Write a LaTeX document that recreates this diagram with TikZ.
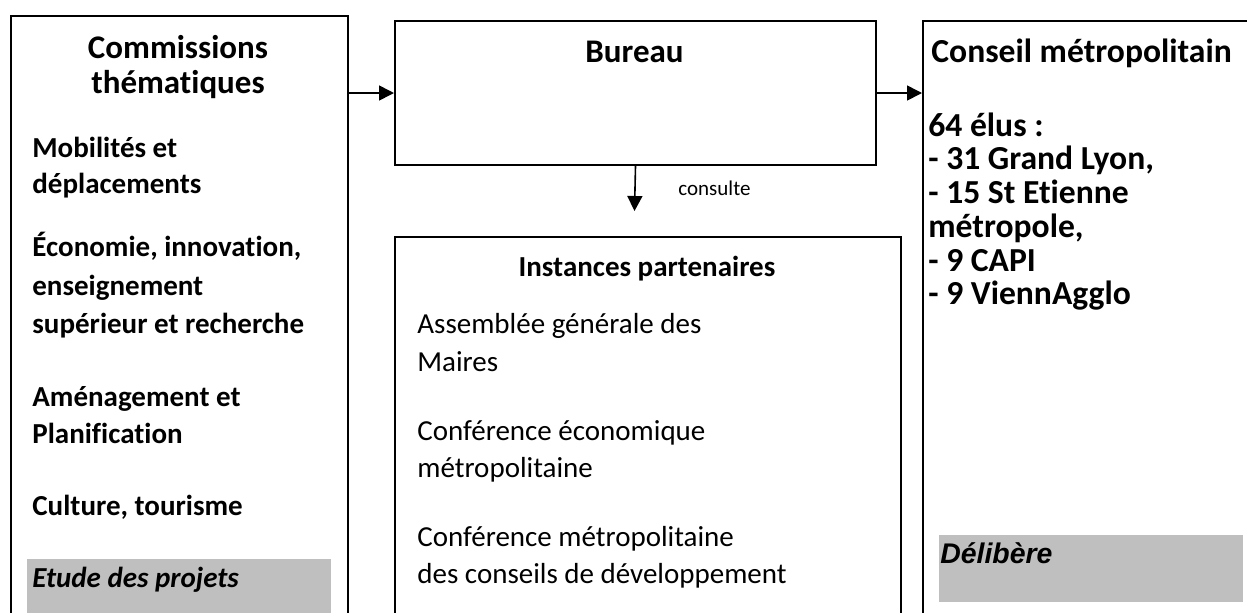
\documentclass[tikz,border=0pt]{standalone}
\usepackage{fontspec}
\setmainfont{Carlito}[Ligatures=NoCommon]
\newfontfamily\arialfont{Liberation Sans}
\usetikzlibrary{arrows.meta}
\definecolor{shade}{RGB}{191,191,191}

\tikzset{
  box/.style={draw, line width=1pt, rectangle, inner sep=0pt, anchor=north west},
  shadebox/.style={fill=shade, inner sep=0pt, anchor=north west},
  ln/.style={inner sep=0pt, anchor=base west, font=\fontsize{14.5}{17}\selectfont},
  bln/.style={ln, font=\fontsize{14.5}{17}\selectfont\bfseries},
  big/.style={ln, font=\fontsize{16.8}{20}\selectfont\bfseries},
  hd/.style={ln, anchor=base, font=\fontsize{16.5}{20}\selectfont\bfseries},
  link/.style={line width=0.8pt, -{Triangle[length=7.5pt,width=7.5pt]}}
}

\begin{document}
\begin{tikzpicture}[x=0.5pt,y=-0.5pt]
\useasboundingbox (0,0) rectangle (1247,612);
\clip (0,0) rectangle (1247,612);
% boxes
\node[box, minimum width=168.5pt, minimum height=312.5pt] (comm) at (10,15) {};
\node[box, minimum width=240.5pt, minimum height=72pt] (bureau) at (394,20) {};
\node[box, minimum width=253pt, minimum height=202pt] (inst) at (394,236) {};
\node[box, minimum width=184pt, minimum height=310pt] (conseil) at (922,20) {};
\node[shadebox, minimum width=152pt, minimum height=30.5pt] (etude) at (27,559) {};
\node[shadebox, minimum width=152pt, minimum height=33.5pt] (delib) at (939,535) {};
% arrows
\coordinate (consend) at (634.5,211);
\draw[link] (comm.east |- bureau.west) -- (bureau.west);
\draw[link] (bureau.east) -- (conseil.west |- bureau.east);
\draw[link] (bureau.south) -- (consend);
\node[ln, font=\fontsize{10.5}{12}\selectfont] (consl) at (678,195) {consulte};
% commissions
\node[hd] (c0) at (178,58) {Commissions};
\node[hd] (c1) at (178,93) {thématiques};
\node[bln] (c2) at (32,157) {Mobilités et};
\node[bln] (c3) at (32,193) {déplacements};
\node[bln] (c4) at (32,256) {Économie, innovation,};
\node[bln] (c5) at (32,295) {enseignement};
\node[bln] (c6) at (32,333) {supérieur et recherche};
\node[bln] (c7) at (32,406) {Aménagement et};
\node[bln] (c8) at (32,443) {Planification};
\node[bln] (c9) at (32,515) {Culture, tourisme};
\node[bln, font=\fontsize{14.5}{17}\selectfont\bfseries\itshape] (c10) at (32,587) {Etude des projets};
% bureau
\node[hd] (b0) at (634.5,62) {Bureau};
% instances
\node[bln, anchor=base] (i0) at (647,276) {Instances partenaires};
\node[ln] (i1) at (417,333) {Assemblée générale des};
\node[ln] (i2) at (417,371) {Maires};
\node[ln] (i3) at (417,440) {Conférence économique};
\node[ln] (i4) at (417,477) {métropolitaine};
\node[ln] (i5) at (417,546) {Conférence métropolitaine};
\node[ln] (i6) at (417,583) {des conseils de développement};
% conseil
\node[big] (k0) at (931,62) {Conseil métropolitain};
\node[big] (k1) at (928,136) {64 élus :};
\node[big] (k2) at (928,169) {- 31 Grand Lyon,};
\node[big] (k3) at (928,203) {- 15 St Etienne};
\node[big] (k4) at (928,237) {métropole,};
\node[big] (k5) at (928,271) {- 9 CAPI};
\node[big] (k6) at (928,304) {- 9 ViennAgglo};
\node[ln, font=\fontsize{14.2}{17}\selectfont\arialfont\bfseries\itshape] (k7) at (940,563) {Délibère};
\end{tikzpicture}
\end{document}
